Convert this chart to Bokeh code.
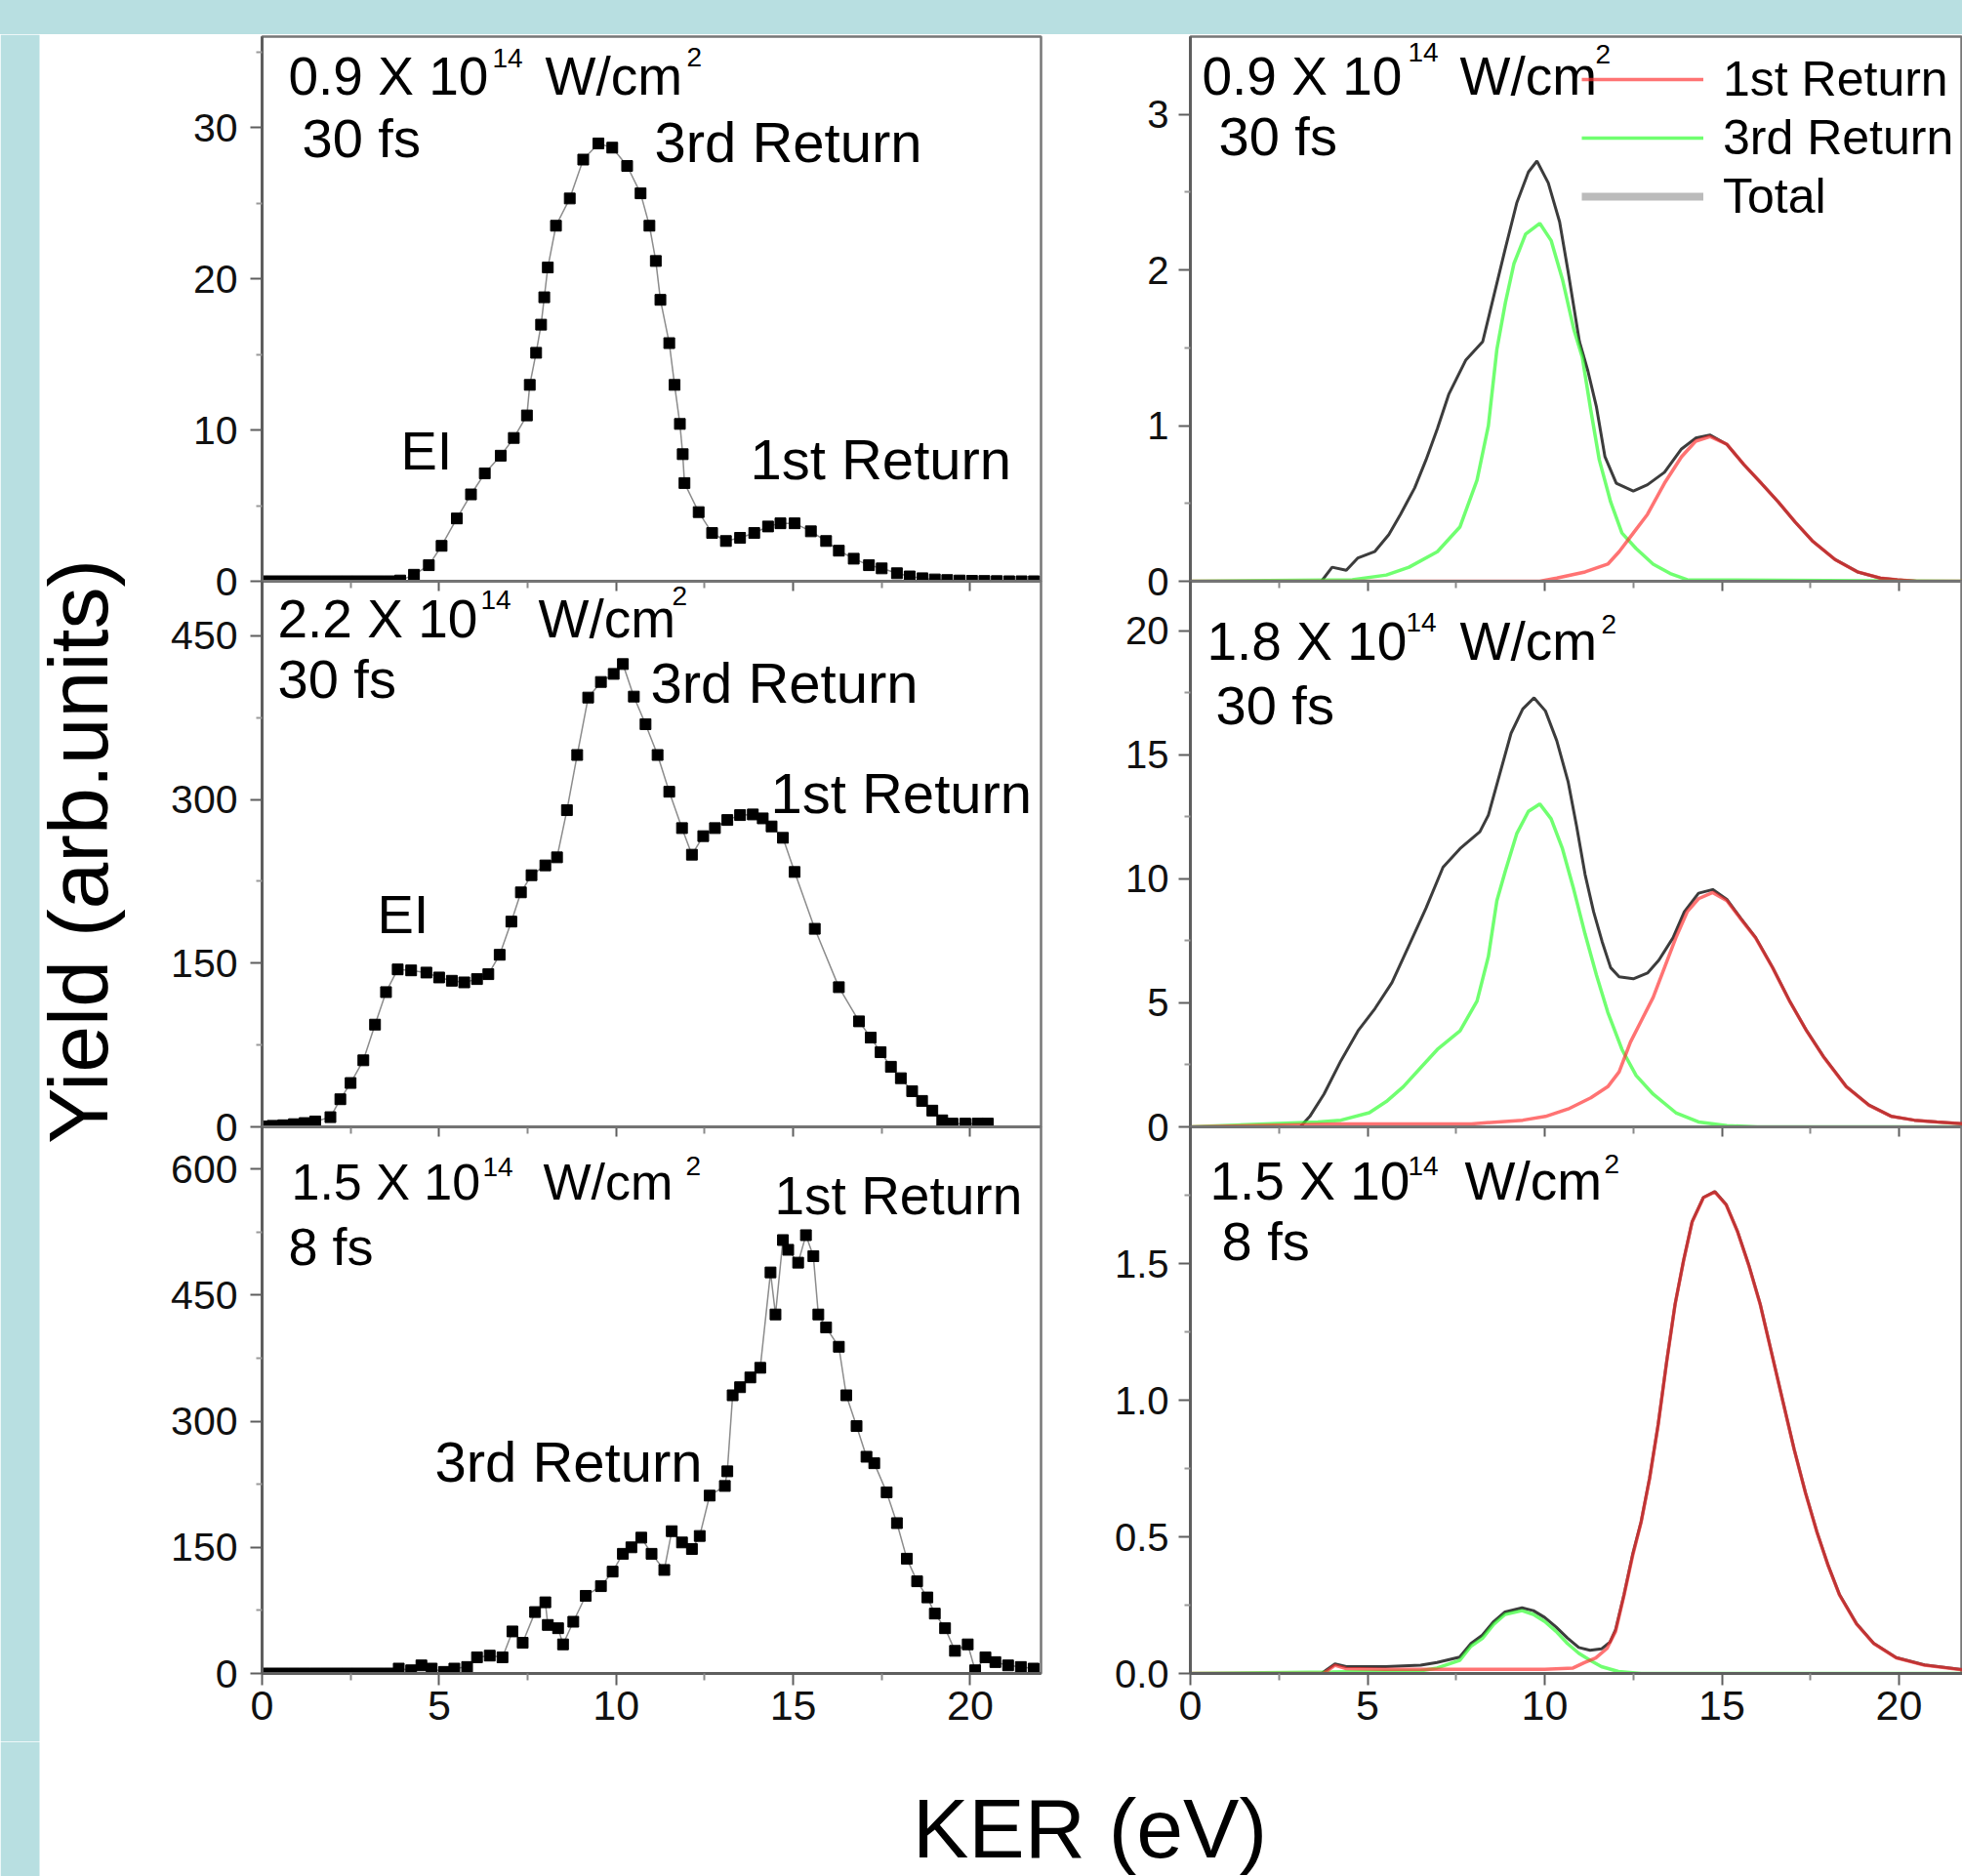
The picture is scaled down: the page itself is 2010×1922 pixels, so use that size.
import math
from bokeh.plotting import figure
from bokeh.models import (Range1d, FixedTicker, LinearAxis, Label, Legend, LegendItem, Spacer,
                          BoxAnnotation, PrintfTickFormatter)
from bokeh.layouts import row, column
from bokeh.embed import file_html
from bokeh.resources import INLINE

# ---------------- data ----------------
x_ticks = [0, 5, 10, 15, 20]
x_minor = [2.5, 7.5, 12.5, 17.5]

# left column: measured yields (square markers)
tl_x = [0.0, 0.3, 0.6, 0.9, 1.2, 1.5, 1.8, 2.1, 2.4, 2.7, 3.0, 3.3, 3.6, 3.9,
        4.29, 4.71, 5.07, 5.5, 5.9, 6.29, 6.74, 7.11, 7.48, 7.56, 7.74, 7.88, 7.97, 8.07, 8.3, 8.69,
        9.07, 9.5, 9.89, 10.31, 10.69, 10.94, 11.12, 11.25, 11.5, 11.65, 11.8, 11.88, 11.93, 12.33,
        12.71, 13.1, 13.5, 13.9, 14.29, 14.64, 15.04, 15.5, 15.93, 16.29, 16.71, 17.14, 17.5, 17.93,
        18.29, 18.65, 19.0, 19.35, 19.7, 20.05, 20.4, 20.75, 21.1, 21.45, 21.8]
tl_y = [0, 0, 0, 0, 0, 0, 0, 0, 0, 0, 0, 0, 0, 0.05,
        0.43, 1.06, 2.34, 4.15, 5.74, 7.13, 8.3, 9.47, 10.96, 12.98, 15.1, 16.96, 18.77, 20.74, 23.5, 25.3,
        27.87, 28.94, 28.66, 27.45, 25.64, 23.5, 21.17, 18.6, 15.74, 12.98, 10.4, 8.4, 6.49, 4.57,
        3.19, 2.66, 2.87, 3.19, 3.62, 3.83, 3.83, 3.3, 2.66, 2.02, 1.49, 1.06, 0.85, 0.53,
        0.32, 0.2, 0.12, 0.08, 0.05, 0.03, 0.02, 0.01, 0, 0, 0]

ml_x = [0.0, 0.3, 0.6, 0.9, 1.2, 1.5, 1.93, 2.21, 2.5, 2.86, 3.19, 3.5, 3.83, 4.21, 4.64, 5.0, 5.36,
        5.71, 6.07, 6.39, 6.71, 7.04, 7.31, 7.61, 8.0, 8.33, 8.61, 8.9, 9.21, 9.57, 9.93, 10.19, 10.5,
        10.83, 11.17, 11.5, 11.86, 12.14, 12.46, 12.79, 13.14, 13.5, 13.86, 14.14, 14.39, 14.71, 15.04,
        15.61, 16.29, 16.86, 17.19, 17.47, 17.76, 18.04, 18.36, 18.64, 18.93, 19.21, 19.5, 19.86,
        20.21, 20.5]
ml_y = [0.5, 1, 1.5, 2.5, 3.5, 5, 8.9, 25.3, 40.2, 61.0, 93.7, 123.5, 144.3, 143.4, 141.4, 136.9, 133.9,
        132.4, 135.4, 139.9, 157.7, 188.1, 214.9, 230.6, 239.6, 247.0, 290.2, 340.8, 393.4, 407.7, 415.1,
        424.1, 394.3, 369.0, 340.8, 307.1, 273.8, 249.4, 266.4, 273.8, 281.2, 285.7, 286.3, 282.7, 275.3,
        264.9, 233.6, 181.5, 128.0, 96.7, 81.8, 68.4, 55.1, 44.6, 32.7, 23.8, 14.9, 6.0, 3.0, 3.0, 3.0, 3.0]

bl_x = [0.0, 0.3, 0.6, 0.9, 1.2, 1.5, 1.8, 2.1, 2.4, 2.7, 3.0, 3.3, 3.6,
        3.86, 4.21, 4.5, 4.79, 5.14, 5.43, 5.79, 6.07, 6.43, 6.79, 7.07, 7.36, 7.71, 8.0, 8.07, 8.36,
        8.5, 8.79, 9.14, 9.57, 9.9, 10.19, 10.43, 10.71, 11.0, 11.36, 11.57, 11.86, 12.14, 12.36, 12.64,
        13.07, 13.14, 13.29, 13.5, 13.79, 14.07, 14.36, 14.5, 14.71, 14.86, 15.14, 15.36, 15.57, 15.71,
        15.93, 16.29, 16.5, 16.79, 17.07, 17.29, 17.64, 17.93, 18.21, 18.5, 18.79, 19.0, 19.29, 19.57,
        19.93, 20.14, 20.43, 20.71, 21.07, 21.43, 21.79]
bl_y = [0, 0, 0, 0, 0, 0, 0, 0, 0, 0, 0, 0, 0,
        5.8, 3.8, 9.6, 5.8, 1.9, 5.8, 7.7, 19.2, 21.2, 19.2, 50, 36.5, 73, 84.6, 57.7, 53.8,
        34.6, 61.5, 92.3, 103.8, 121.1, 142.3, 150, 161.5, 142.3, 123.1, 169.2, 155.8, 148, 163.5, 211.5,
        223, 240.4, 330.8, 340.4, 352, 363.5, 476.9, 426.9, 515.4, 503.8, 488.5, 521.2, 496.2, 426.9,
        411.5, 388.5, 330.8, 294.2, 257.7, 250, 215.4, 178.8, 136.5, 109.6, 90.4, 71.2, 53.8, 26.9,
        34.6, 3.8, 19.2, 13.5, 9.6, 7.7, 5.8]

# right column: fitted contributions
tr_total_x = [0, 3.7, 4.0, 4.4, 4.73, 5.2, 5.6, 5.93, 6.33, 6.65, 6.97, 7.29, 7.77, 8.25, 8.57, 8.89, 9.21,
              9.54, 9.78, 10.1, 10.42, 10.66, 10.98, 11.22, 11.46, 11.7, 12.02, 12.5, 12.9, 13.38, 13.86,
              14.26, 14.66, 15.14, 15.62, 16.11, 16.59, 17.07, 17.55, 18.19, 18.83, 19.47, 19.95, 20.5, 22]
tr_total_y = [0, 0, 0.09, 0.07, 0.15, 0.19, 0.3, 0.43, 0.6, 0.78, 0.98, 1.2, 1.42, 1.54, 1.84, 2.14, 2.43,
              2.63, 2.7, 2.56, 2.31, 1.99, 1.54, 1.35, 1.12, 0.8, 0.63, 0.58, 0.62, 0.7, 0.85,
              0.92, 0.94, 0.88, 0.75, 0.63, 0.51, 0.38, 0.26, 0.14, 0.06, 0.02, 0.01, 0, 0]
tr_red_x = [0, 9.86, 10.34, 11.14, 11.78, 12.1, 12.5, 12.9, 13.38, 13.86, 14.26, 14.66, 15.14, 15.62,
            16.11, 16.59, 17.07, 17.55, 18.19, 18.83, 19.47, 19.95, 20.5, 22]
tr_red_y = [0, 0, 0.02, 0.06, 0.11, 0.19, 0.31, 0.43, 0.63, 0.8, 0.9, 0.93, 0.88, 0.75,
            0.63, 0.51, 0.38, 0.26, 0.14, 0.06, 0.02, 0.01, 0, 0]
tr_green_x = [0, 4.57, 5.53, 6.17, 6.97, 7.61, 8.09, 8.41, 8.65, 8.89, 9.13, 9.46, 9.86, 10.18, 10.5,
              10.82, 11.06, 11.3, 11.54, 11.86, 12.18, 12.58, 13.06, 13.54, 14.02, 22]
tr_green_y = [0, 0.01, 0.04, 0.09, 0.19, 0.35, 0.65, 1.0, 1.49, 1.79, 2.04, 2.23, 2.3, 2.19, 1.94,
              1.62, 1.44, 1.1, 0.78, 0.51, 0.31, 0.21, 0.11, 0.05, 0.01, 0]

mr_total_x = [0, 3.1, 3.37, 3.77, 4.25, 4.73, 5.21, 5.69, 6.17, 6.65, 7.13, 7.61, 8.17, 8.41, 8.73, 9.05,
              9.38, 9.7, 10.02, 10.34, 10.66, 10.9, 11.14, 11.38, 11.62, 11.86, 12.1, 12.5, 12.9, 13.22,
              13.62, 13.94, 14.34, 14.74, 15.14, 15.54, 15.95, 16.43, 16.91, 17.39, 17.87, 18.51, 19.15,
              19.79, 20.43, 21.07, 22]
mr_total_y = [0, 0, 0.42, 1.32, 2.67, 3.87, 4.77, 5.82, 7.32, 8.82, 10.47, 11.22, 11.9, 12.57, 14.22, 15.87,
              16.85, 17.3, 16.77, 15.57, 13.92, 12.12, 10.17, 8.67, 7.47, 6.42, 6.05, 5.97, 6.2, 6.72,
              7.62, 8.67, 9.42, 9.57, 9.17, 8.4, 7.64, 6.43, 5.08, 3.88, 2.83, 1.63, 0.88,
              0.42, 0.27, 0.2, 0.1]
mr_red_x = [0, 4.25, 5.69, 7.93, 9.38, 10.02, 10.66, 11.3, 11.78, 12.1, 12.42, 12.74, 13.06, 13.38, 13.7,
            14.02, 14.34, 14.74, 15.14, 15.54, 15.95, 16.43, 16.91, 17.39, 17.87, 18.51, 19.15, 19.79,
            20.43, 21.07, 22]
mr_red_y = [0, 0.12, 0.12, 0.12, 0.27, 0.42, 0.72, 1.17, 1.62, 2.22, 3.42, 4.32, 5.22, 6.42, 7.62,
            8.67, 9.2, 9.45, 9.12, 8.37, 7.62, 6.42, 5.07, 3.87, 2.82, 1.62, 0.87, 0.42,
            0.27, 0.2, 0.1]
mr_green_x = [0, 3.6, 4.25, 5.05, 5.53, 6.01, 6.49, 6.97, 7.61, 8.09, 8.41, 8.65, 8.89, 9.21, 9.54, 9.86,
              10.18, 10.5, 10.82, 11.14, 11.46, 11.78, 12.18, 12.58, 13.06, 13.7, 14.34, 15.14, 16.0, 22]
mr_green_y = [0, 0.2, 0.27, 0.57, 1.02, 1.62, 2.37, 3.12, 3.87, 5.07, 6.87, 9.12, 10.32, 11.82, 12.72, 13.02,
              12.42, 11.22, 9.57, 7.77, 6.12, 4.62, 3.12, 2.07, 1.32, 0.57, 0.2, 0.05, 0, 0]

br_total_x = [0, 3.7, 4.08, 4.4, 5.5, 6.5, 6.96, 7.6, 7.92, 8.24, 8.56, 8.88, 9.36, 9.68, 10.0, 10.32,
              10.64, 10.96, 11.28, 11.6, 11.84, 12.0, 12.24, 12.48, 12.72, 12.96, 13.2, 13.44, 13.68,
              13.92, 14.16, 14.48, 14.8, 15.12, 15.44, 15.76, 16.08, 16.4, 16.72, 17.04, 17.36, 17.68,
              18.0, 18.32, 18.8, 19.28, 19.92, 20.72, 22]
br_total_y = [0, 0, 0.035, 0.025, 0.025, 0.03, 0.04, 0.06, 0.11, 0.14, 0.19, 0.225, 0.24, 0.23, 0.205, 0.17,
              0.13, 0.095, 0.085, 0.09, 0.115, 0.16, 0.29, 0.435, 0.555, 0.715, 0.91, 1.14, 1.352,
              1.512, 1.653, 1.742, 1.763, 1.716, 1.618, 1.494, 1.352, 1.175, 0.997, 0.82, 0.661, 0.519,
              0.395, 0.288, 0.182, 0.111, 0.058, 0.031, 0.011]
br_red_x = [0, 3.76, 4.08, 4.4, 5.5, 7.0, 8.5, 10.0, 10.8, 11.12, 11.44, 11.76, 12.0, 12.24, 12.48, 12.72,
            12.96, 13.2, 13.44, 13.68, 13.92, 14.16, 14.48, 14.8, 15.12, 15.44, 15.76, 16.08, 16.4, 16.72,
            17.04, 17.36, 17.68, 18.0, 18.32, 18.8, 19.28, 19.92, 20.72, 22]
br_red_y = [0, 0, 0.03, 0.018, 0.015, 0.015, 0.015, 0.015, 0.02, 0.04, 0.057, 0.092, 0.154, 0.287, 0.43,
            0.553, 0.713, 0.908, 1.138, 1.351, 1.511, 1.652, 1.741, 1.762, 1.715, 1.617, 1.493, 1.351,
            1.174, 0.996, 0.819, 0.66, 0.518, 0.394, 0.287, 0.181, 0.11, 0.057, 0.03, 0.01]
br_green_x = [0, 4.0, 6.5, 6.96, 7.6, 7.92, 8.24, 8.56, 8.88, 9.36, 9.68, 10.0, 10.32, 10.64, 10.96, 11.28,
              11.6, 12.08, 12.72, 22]
br_green_y = [0, 0.005, 0.01, 0.02, 0.048, 0.1, 0.128, 0.18, 0.216, 0.23, 0.216, 0.19, 0.154, 0.11, 0.074,
              0.048, 0.025, 0.007, 0, 0]

# axis ticks for each panel
tl_ticks, tl_minor = [0, 10, 20, 30], [5, 15, 25, 35]
ml_ticks, ml_minor = [0, 150, 300, 450], [75, 225, 375]
bl_ticks, bl_minor = [0, 150, 300, 450, 600], [75, 225, 375, 525]
tr_ticks, tr_minor = [0, 1, 2, 3], [0.5, 1.5, 2.5]
mr_ticks, mr_minor = [0, 5, 10, 15, 20], [2.5, 7.5, 12.5, 17.5]
br_ticks, br_minor = [0, 0.5, 1.0, 1.5], [0.25, 0.75, 1.25, 1.75]

# ---------------- styling / geometry ----------------
TEAL = "#b8dfe1"
FONT = "Liberation Sans"
AXIS_COL = "#5e5e5e"
ANN = 56    # annotation font px
RET = 58    # "Return" annotations
INT = 55    # intensity lines
SUP = 28    # superscript font px
MID = 0.3465  # (ascent - descent) / 2 for Liberation Sans, in em

TEAL_TOP, TEAL_LEFT = 35, 40
YF_W = 148
LEFT_W, RIGHT_W = 978, 884
LEFT_BL, RIGHT_BL = 120, 93
B = 28                       # overlap band between stacked panels
FRAME_H = [558, 559, 560]
ROW_BT = [2, B, B]
ROW_BB = [B, B, 70]
ROW_H = [FRAME_H[i] + ROW_BT[i] + ROW_BB[i] for i in range(3)]
X0_LEFT, X0_RIGHT = 268, 1219
Y0_ROWS = [595, 1154, 1714]


def styled_axis(ax, tick_out, minor_out):
    ax.axis_line_color = AXIS_COL
    ax.axis_line_width = 3
    ax.major_tick_out = tick_out
    ax.major_tick_in = 0
    ax.minor_tick_out = minor_out
    ax.minor_tick_in = 0
    ax.major_tick_line_color = AXIS_COL
    ax.major_tick_line_width = 2
    ax.minor_tick_line_color = "#8a8a8a"
    ax.minor_tick_line_width = 2
    ax.major_label_text_font = FONT
    ax.major_label_text_color = "#111111"


def panel(width, border_left, border_right, rowi, y_end, x_end, yt, ym, ysize, ystand, yfmt=None):
    p = figure(width=width, height=ROW_H[rowi], x_range=Range1d(0, x_end), y_range=Range1d(0, y_end),
               output_backend="svg", toolbar_location=None, x_axis_location=None, y_axis_location=None,
               min_border_left=border_left, min_border_right=border_right,
               min_border_top=ROW_BT[rowi], min_border_bottom=ROW_BB[rowi])
    if rowi == 0:
        p.border_fill_color = "white"
        p.background_fill_color = "white"
    else:
        # transparent canvas: the band above the frame shows the panel above it
        p.border_fill_alpha = 0
        p.background_fill_alpha = 0
    p.outline_line_color = "#777777"
    p.outline_line_width = 2.5
    p.grid.visible = False
    ya = LinearAxis(ticker=FixedTicker(ticks=yt, minor_ticks=ym))
    styled_axis(ya, 12, 6)
    ya.minor_tick_line_color = "#9a9a9a"
    ya.major_label_text_font_size = f"{ysize}px"
    ya.major_label_standoff = ystand
    if yfmt is not None:
        ya.formatter = PrintfTickFormatter(format=yfmt)
    p.add_layout(ya, "left")
    xa = LinearAxis(ticker=FixedTicker(ticks=x_ticks, minor_ticks=x_minor))
    if rowi < 2:
        styled_axis(xa, 10, 7)
        xa.major_label_text_font_size = "1px"
        xa.major_label_text_color = None
        xa.major_label_standoff = 0
    else:
        styled_axis(xa, 12, 7)
        xa.major_label_text_font_size = "43px"
        xa.major_label_standoff = 6
    p.add_layout(xa, "below")
    return p


def put(p, x0, y0, text, xl, yb, size):
    # xl: left edge, yb: baseline (reference pixels); anchor at vertical middle of the text box
    p.add_layout(Label(x=xl - x0, y=y0 - (yb - MID * size), x_units="screen", y_units="screen", text=text,
                       text_font=FONT, text_font_size=f"{size}px", text_color="black",
                       text_align="left", text_baseline="middle"))


def intensity(p, x0, y0, main, xm, ym, xs1, ys1, xw, xs2, ys2, size=INT):
    put(p, x0, y0, main, xm, ym, size)
    put(p, x0, y0, "14", xs1, ys1, SUP)
    put(p, x0, y0, "W/cm", xw, ym, size)
    put(p, x0, y0, "2", xs2, ys2, SUP)


def measured(p, xs, ys):
    p.line(xs, ys, line_color="#8c8c8c", line_width=1.5)
    p.scatter(xs, ys, marker="square", size=11, fill_color="black", line_color="black")


def fitted(p, tx, ty, rx, ry, gx, gy):
    t = p.line(tx, ty, line_color="#3c3c3c", line_width=3)
    g = p.line(gx, gy, line_color="#2cff2c", line_width=3.5, line_alpha=0.68)
    r = p.line(rx, ry, line_color="#ff3030", line_width=3.5, line_alpha=0.68)
    return r, g, t


# ---------------- left column ----------------
tl = panel(LEFT_W, LEFT_BL, 60, 0, 36, 22, tl_ticks, tl_minor, 41, 13)
measured(tl, tl_x, tl_y)
intensity(tl, X0_LEFT, Y0_ROWS[0], "0.9 X 10", 295, 97, 504, 69, 558, 703, 68)
put(tl, X0_LEFT, Y0_ROWS[0], "30 fs", 309, 160, ANN)
put(tl, X0_LEFT, Y0_ROWS[0], "3rd Return", 670, 165, RET)
put(tl, X0_LEFT, Y0_ROWS[0], "EI", 410, 480, ANN)
put(tl, X0_LEFT, Y0_ROWS[0], "1st Return", 768, 490, RET)

ml = panel(LEFT_W, LEFT_BL, 60, 1, 500, 22, ml_ticks, ml_minor, 41, 13)
measured(ml, ml_x, ml_y)
intensity(ml, X0_LEFT, Y0_ROWS[1], "2.2 X 10", 284, 653, 492, 624, 551, 688, 620)
put(ml, X0_LEFT, Y0_ROWS[1], "30 fs", 284, 714, ANN)
put(ml, X0_LEFT, Y0_ROWS[1], "3rd Return", 666, 719, RET)
put(ml, X0_LEFT, Y0_ROWS[1], "1st Return", 789, 832, RET)
put(ml, X0_LEFT, Y0_ROWS[1], "EI", 386, 955, ANN)

bl = panel(LEFT_W, LEFT_BL, 60, 2, 650, 22, bl_ticks, bl_minor, 41, 13)
measured(bl, bl_x, bl_y)
intensity(bl, X0_LEFT, Y0_ROWS[2], "1.5 X 10", 298, 1229, 494, 1205, 556, 702, 1204, size=52)
put(bl, X0_LEFT, Y0_ROWS[2], "8 fs", 295, 1295, 54)
put(bl, X0_LEFT, Y0_ROWS[2], "1st Return", 793, 1244, 55)
put(bl, X0_LEFT, Y0_ROWS[2], "3rd Return", 445, 1517, RET)

# ---------------- right column ----------------
XR_END = 21.79
tr = panel(RIGHT_W, RIGHT_BL, 0, 0, 3.5, XR_END, tr_ticks, tr_minor, 40, 10)
r1, g1, t1 = fitted(tr, tr_total_x, tr_total_y, tr_red_x, tr_red_y, tr_green_x, tr_green_y)
# legend key for "Total": a single-point line (draws nothing in the plot, only its legend swatch)
tot_key = tr.line(tr_total_x[:1], tr_total_y[:1], line_color="#bbbbbb", line_width=8)
intensity(tr, X0_RIGHT, Y0_ROWS[0], "0.9 X 10", 1231, 97, 1442, 63, 1495, 1634, 65)
put(tr, X0_RIGHT, Y0_ROWS[0], "30 fs", 1248, 158, ANN)
legend = Legend(items=[LegendItem(label="1st Return", renderers=[r1]),
                       LegendItem(label="3rd Return", renderers=[g1]),
                       LegendItem(label="Total", renderers=[tot_key])],
                location=(401, 365), padding=0, margin=0, spacing=2,
                glyph_width=125, glyph_height=54, label_height=54, label_standoff=20,
                label_text_font=FONT, label_text_font_size="50px", label_text_color="black",
                border_line_color=None, background_fill_alpha=0)
tr.add_layout(legend)

mr = panel(RIGHT_W, RIGHT_BL, 0, 1, 22, XR_END, mr_ticks, mr_minor, 40, 10)
fitted(mr, mr_total_x, mr_total_y, mr_red_x, mr_red_y, mr_green_x, mr_green_y)
intensity(mr, X0_RIGHT, Y0_ROWS[1], "1.8 X 10", 1236, 676, 1440, 647, 1495, 1640, 649)
put(mr, X0_RIGHT, Y0_ROWS[1], "30 fs", 1245, 741, ANN)

br = panel(RIGHT_W, RIGHT_BL, 0, 2, 2.0, XR_END, br_ticks, br_minor, 40, 10, yfmt="%.1f")
fitted(br, br_total_x, br_total_y, br_red_x, br_red_y, br_green_x, br_green_y)
intensity(br, X0_RIGHT, Y0_ROWS[2], "1.5 X 10", 1239, 1229, 1442, 1204, 1500, 1643, 1202)
put(br, X0_RIGHT, Y0_ROWS[2], "8 fs", 1251, 1290, ANN)


# ---------------- shared axis titles ----------------
def blank(w, h):
    f = figure(width=w, height=h, x_range=Range1d(0, w), y_range=Range1d(0, h),
               output_backend="svg", toolbar_location=None, x_axis_location=None, y_axis_location=None,
               min_border=0)
    f.border_fill_color = "white"
    f.background_fill_color = "white"
    f.outline_line_color = None
    f.grid.visible = False
    # teal page edge on the left, as in the reference
    f.add_layout(BoxAnnotation(left=0, right=TEAL_LEFT, fill_color=TEAL, fill_alpha=1.0, line_color=None))
    return f


YF_H = sum(FRAME_H) + ROW_BT[0] + ROW_BB[2]
yfig = blank(YF_W, YF_H)
Y_SIZE = 86
yfig.renderers  # keep default renderers
yfig.center.insert(0, Label(x=109 - MID * Y_SIZE, y=YF_H - (872 - TEAL_TOP), text="Yield (arb.units)",
                            angle=math.pi / 2, text_font=FONT, text_font_size=f"{Y_SIZE}px",
                            text_color="black", text_align="center", text_baseline="middle"))

KF_H = 1922 - TEAL_TOP - YF_H
K_SIZE = 86
kfig = blank(2010, KF_H)
kfig.add_layout(Label(x=1116, y=KF_H - (1902 - TEAL_TOP - YF_H - MID * K_SIZE), text="KER (eV)",
                      text_font=FONT, text_font_size=f"{K_SIZE}px", text_color="black",
                      text_align="center", text_baseline="middle"))

grid = column(row(tl, tr),
              row(ml, mr, margin=(-2 * B, 0, 0, 0)),
              row(bl, br, margin=(-2 * B, 0, 0, 0)),
              styles={"background-color": "white"})
page = column(Spacer(width=2010, height=TEAL_TOP, styles={"background-color": TEAL}),
              row(yfig, grid, styles={"background-color": "white"}),
              kfig,
              styles={"background-color": "white"})

open("out.html", "w").write(file_html(page, INLINE))
